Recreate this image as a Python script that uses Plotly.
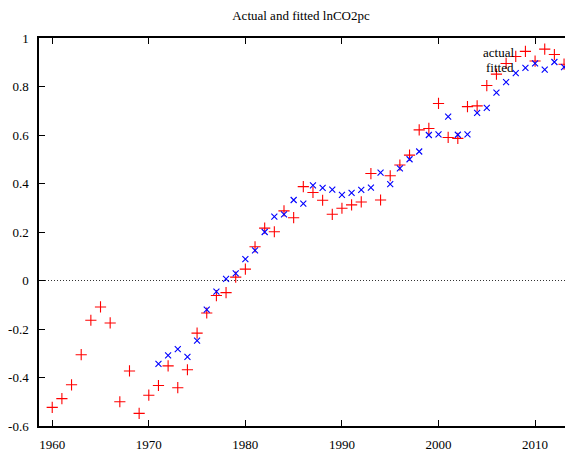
import plotly.graph_objects as go

years_actual = list(range(1960, 2014))
actual = [-0.523, -0.487, -0.430, -0.306, -0.164, -0.109, -0.175, -0.500, -0.373, -0.548,
          -0.473, -0.433, -0.352, -0.442, -0.368, -0.217, -0.134, -0.062, -0.050, 0.014,
          0.047, 0.139, 0.216, 0.201, 0.287, 0.259, 0.387, 0.363, 0.331, 0.273,
          0.298, 0.312, 0.324, 0.441, 0.332, 0.432, 0.476, 0.517, 0.621, 0.627,
          0.730, 0.590, 0.586, 0.717, 0.720, 0.804, 0.851, 0.895, 0.924, 0.945,
          0.905, 0.954, 0.932, 0.892]

years_fitted = list(range(1971, 2014))
fitted = [-0.344, -0.309, -0.283, -0.315, -0.248, -0.120, -0.046, 0.007, 0.029,
          0.088, 0.124, 0.200, 0.263, 0.273, 0.332, 0.317, 0.392, 0.382, 0.375,
          0.353, 0.361, 0.374, 0.383, 0.445, 0.397, 0.462, 0.500, 0.532, 0.600,
          0.603, 0.676, 0.601, 0.603, 0.691, 0.712, 0.775, 0.818, 0.855, 0.877,
          0.895, 0.870, 0.901, 0.880]

x_ticks = [1960, 1970, 1980, 1990, 2000, 2010]
y_ticks = [-0.6, -0.4, -0.2, 0, 0.2, 0.4, 0.6, 0.8, 1]
y_ticktext = ["-0.6", "-0.4", "-0.2", "0", "0.2", "0.4", "0.6", "0.8", "1"]

FONT = "Liberation Serif"

# The page body has an 8px default margin, so the figure is 8px smaller than the window.
W, H = 565, 445

fig = go.Figure()
fig.add_trace(go.Scatter(
    x=years_actual, y=actual, mode="markers", name="actual", showlegend=False,
    marker=dict(symbol="cross-thin", size=8, color="#ff0000",
                line=dict(color="#ff0000", width=1.1)),
))
fig.add_trace(go.Scatter(
    x=years_fitted, y=fitted, mode="markers", name="fitted", showlegend=False,
    marker=dict(symbol="x-thin", size=6, color="#0000ff",
                line=dict(color="#0000ff", width=1.1)),
))

fig.add_shape(type="line", xref="paper", yref="y", x0=0, x1=1, y0=0, y1=0,
              line=dict(color="#333333", width=1, dash="1px,2px"), layer="below")

axis_common = dict(
    showgrid=False, zeroline=False, showline=True, linecolor="black", linewidth=1.5,
    mirror="allticks", ticks="inside", ticklen=6, tickcolor="black", tickwidth=1,
    tickfont=dict(family=FONT, size=13, color="black"),
)

fig.update_layout(
    width=W, height=H,
    margin=dict(l=25, r=0, t=30, b=27, pad=0),
    paper_bgcolor="white", plot_bgcolor="white",
    title=dict(text="Actual and fitted lnCO2pc", x=293 / W, xanchor="center",
               y=1 - 3 / H, yanchor="top", yref="container",
               font=dict(family=FONT, size=13, color="black")),
    xaxis=dict(range=[1958.63, 2013.72], tickvals=x_ticks, ticklabelstandoff=6, **axis_common),
    yaxis=dict(range=[-0.6, 1.0], tickvals=y_ticks, ticktext=y_ticktext,
               ticklabelstandoff=6, **axis_common),
    annotations=[
        dict(text="actual", xref="paper", yref="paper", x=(517 - 33) / 540,
             y=(425.7 - 52.3) / 388, xanchor="right", yanchor="middle", showarrow=False,
             font=dict(family=FONT, size=13, color="black")),
        dict(text="fitted", xref="paper", yref="paper", x=(517 - 33) / 540,
             y=(425.7 - 67.5) / 388, xanchor="right", yanchor="middle", showarrow=False,
             font=dict(family=FONT, size=13, color="black")),
    ],
)

fig.write_html("out.html")
